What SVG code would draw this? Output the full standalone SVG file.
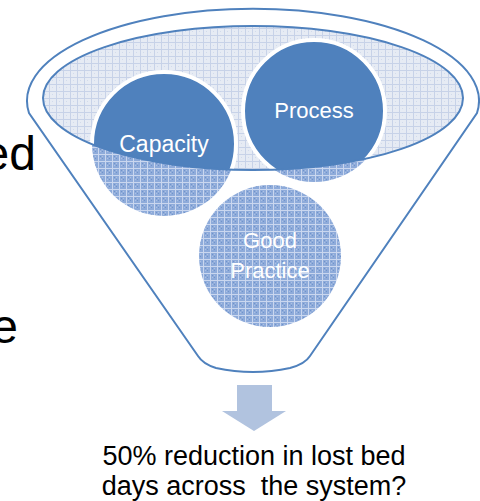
<svg xmlns="http://www.w3.org/2000/svg" width="480" height="501" viewBox="0 0 480 501">
<style>
.lbl{font-family:"Liberation Sans",Arial,sans-serif;font-size:22px;fill:#fff;text-anchor:middle}
.big{font-family:"Liberation Sans",Arial,sans-serif;font-size:48px;fill:#000;text-anchor:end}
.cap{font-family:"Liberation Sans",Arial,sans-serif;font-size:27px;fill:#000;text-anchor:middle}
.edge{stroke:#4F81BD;stroke-width:2;fill:none}
</style>
<defs>
<pattern id="pLight" width="7" height="7" patternUnits="userSpaceOnUse">
<rect width="7" height="7" fill="#E6EBF4"/>
<rect x="0" y="0" width="7" height="1" fill="#C7D2E8"/>
<rect x="0" y="0" width="1" height="7" fill="#C7D2E8"/>
<rect x="3" y="3" width="1" height="1" fill="#D2DBEC"/>
</pattern>
<pattern id="pDark" width="7" height="7" patternUnits="userSpaceOnUse">
<rect width="7" height="7" fill="#8EABDA"/>
<rect x="0" y="0" width="7" height="1" fill="#CAD7EF"/>
<rect x="0" y="0" width="1" height="7" fill="#CAD7EF"/>
<rect x="2" y="2" width="1" height="1" fill="#7093CA"/>
<rect x="4" y="4" width="1" height="1" fill="#7093CA"/>
<rect x="4" y="2" width="1" height="1" fill="#ADC1E3"/>
<rect x="2" y="4" width="1" height="1" fill="#ADC1E3"/>
</pattern>
<clipPath id="inner"><ellipse cx="253" cy="98" rx="210" ry="72"/></clipPath>
</defs>
<g id="side-text">
<text class="big" x="36" y="170">ed</text>
<text class="big" x="18" y="343">e</text>
</g>
<g id="funnel">
<path d="M29,113 A226,92 0 1 1 477,113 L310,356 Q305,364 290,368 Q253,376 216,368 Q203,364 198,356 Z" fill="#fff" stroke="#4F81BD" stroke-width="2"/>
<ellipse cx="253" cy="98" rx="210" ry="72" fill="url(#pLight)"/>
</g>
<g id="good-practice">
<circle cx="270" cy="256" r="71" fill="url(#pDark)"/>
<text class="lbl" x="270" y="248" fill="#F2F5FB">Good</text>
<text class="lbl" x="270" y="278" fill="#F2F5FB">Practice</text>
</g>
<g id="capacity">
<circle cx="164" cy="144" r="72" fill="url(#pDark)"/>
<circle cx="164" cy="144" r="72" fill="#4F81BD" stroke="#fff" stroke-width="4" clip-path="url(#inner)"/>
<text class="lbl" x="164" y="152" style="font-size:23px">Capacity</text>
</g>
<g id="process">
<circle cx="314" cy="111" r="71" fill="url(#pDark)"/>
<circle cx="314" cy="111" r="71" fill="#4F81BD" stroke="#fff" stroke-width="4" clip-path="url(#inner)"/>
<text class="lbl" x="314" y="118">Process</text>
</g>
<ellipse class="edge" cx="253" cy="98" rx="210" ry="72"/>
<g id="connectors">
<polygon points="237,385 272,385 272,411 286,411 254,431 222,411 237,411" fill="#B1C3DF"/>
</g>
<g id="result">
<text class="cap" x="254" y="465">50% reduction in lost bed</text>
<text class="cap" x="254" y="495" xml:space="preserve">days across  the system?</text>
</g>
</svg>
